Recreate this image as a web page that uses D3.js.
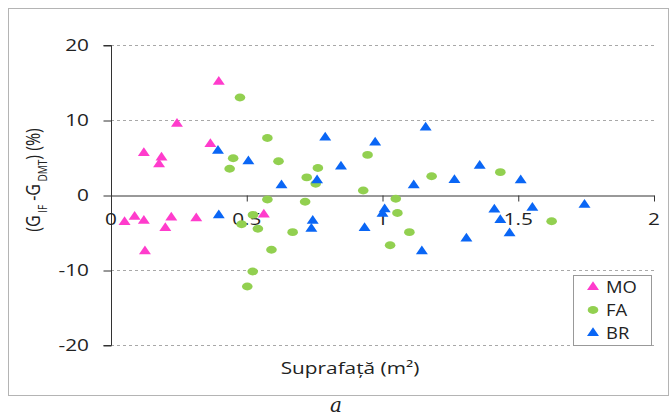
<!DOCTYPE html>
<head>
  <meta charset="utf-8">
  <script src="https://d3js.org/d3.v7.min.js"></script>
  <style>
    body { margin: 0; background: #fff; }
    svg { width: 671px; height: 417px; display: block; }
    text { font-family: "Open Sans", sans-serif; fill: #222; }
  </style>
</head>

<body>
  <svg></svg>

  <script>
    const width = 671;
    const height = 417;

    // data: [surface m2, difference %]
    const moData = [
      [0.397, 15.1], [0.243, 9.5], [0.366, 6.8], [0.121, 5.6], [0.186, 5.0],
      [0.177, 4.1], [0.050, -3.6], [0.087, -2.9], [0.121, -3.45], [0.222, -3.0],
      [0.200, -4.4], [0.314, -3.1], [0.563, -2.6], [0.125, -7.5]
    ];
    const faData = [
      [0.475, 13.0], [0.576, 7.6], [0.450, 4.9], [0.617, 4.5], [0.437, 3.5],
      [0.762, 3.6], [0.721, 2.35], [0.754, 1.5], [0.945, 5.35], [0.929, 0.6],
      [1.181, 2.5], [1.434, 3.05], [0.576, -0.6], [0.715, -0.9], [1.049, -0.5],
      [1.055, -2.4], [0.523, -2.65], [0.481, -3.9], [0.541, -4.5], [0.669, -4.95],
      [0.591, -7.3], [0.522, -10.2], [0.502, -12.2], [1.028, -6.7], [1.099, -4.95],
      [1.623, -3.5]
    ];
    const brData = [
      [0.394, 5.9], [0.506, 4.5], [0.628, 1.3], [0.789, 7.65], [0.973, 7.0],
      [0.759, 1.95], [0.847, 3.8], [1.159, 9.0], [1.115, 1.3], [1.265, 2.0],
      [1.358, 3.9], [1.509, 1.95], [0.397, -2.7], [0.743, -3.45], [0.738, -4.5],
      [1.008, -1.9], [1.0, -2.5], [0.934, -4.4], [1.412, -1.95], [1.434, -3.35],
      [1.468, -5.1], [1.552, -1.7], [1.744, -1.3], [1.309, -5.8], [1.145, -7.5]
    ];

    const seriesNames = ['MO', 'FA', 'BR'];
    const xTicks = [0, 0.5, 1, 1.5, 2];
    const xTickLabels = ['0', '0.5', '1', '1.5', '2'];
    const yTicks = [20, 10, 0, -10, -20];

    const series = [
      { name: seriesNames[0], data: moData, shape: 'tri', color: '#ff3ccc' },
      { name: seriesNames[1], data: faData, shape: 'dot', color: '#92d050' },
      { name: seriesNames[2], data: brData, shape: 'tri', color: '#0a66f5' }
    ];

    const x = d3.scaleLinear().domain([0, 2]).range([111, 654]);
    const y = d3.scaleLinear().domain([-20, 20]).range([345, 45]);
    const stretch = 1.3; // the reference text is drawn wide

    const svg = d3.select('svg');

    // outer frame
    svg.append('rect')
      .attr('x', 8.5).attr('y', 8.5)
      .attr('width', 660).attr('height', 387)
      .attr('fill', 'none').attr('stroke', '#b4b4b4');

    // dashed grid
    svg.append('g').selectAll('line')
      .data(yTicks.filter(d => d !== 0))
      .join('line')
      .attr('x1', x(0)).attr('x2', x(2))
      .attr('y1', d => y(d) + 0.5).attr('y2', d => y(d) + 0.5)
      .attr('stroke', '#a8a8a8')
      .attr('stroke-dasharray', '3,3');

    // y axis
    const yAxis = svg.append('g')
      .attr('transform', `translate(${x(0) + 0.5},0.5)`)
      .call(d3.axisLeft(y).tickValues(yTicks).tickSize(8).tickFormat(''));
    yAxis.select('.domain').attr('stroke', '#333').attr('d', `M-8,${y(20)}H0V${y(-20)}H-8`);
    yAxis.selectAll('.tick line').attr('stroke', '#333');

    svg.append('g').selectAll('text')
      .data(yTicks)
      .join('text')
      .attr('transform', d => `translate(89,${y(d)}) scale(${stretch},1)`)
      .attr('text-anchor', 'end')
      .attr('dy', '0.35em')
      .style('font-size', '16px')
      .text(d => d);

    // x axis through zero
    const xAxis = svg.append('g')
      .attr('transform', `translate(0,${y(0) + 0.5})`)
      .call(d3.axisBottom(x).tickValues(xTicks).tickSize(6).tickSizeOuter(0).tickFormat(''));
    xAxis.select('.domain').attr('stroke', '#333');
    xAxis.selectAll('.tick line').attr('stroke', '#333');

    svg.append('g').selectAll('text')
      .data(xTicks)
      .join('text')
      .attr('transform', (d, i) => `translate(${x(d)},${y(0) + 30}) scale(${stretch},1)`)
      .attr('text-anchor', 'middle')
      .style('font-size', '16px')
      .text((d, i) => xTickLabels[i]);

    // markers
    const tri = d3.symbol().type(d3.symbolTriangle).size(62)();

    function drawMarker(sel, shape, color) {
      if (shape === 'tri') {
        sel.append('path')
          .attr('d', tri)
          .attr('transform', 'scale(1,0.85)')
          .attr('fill', color);
      } else {
        sel.append('ellipse')
          .attr('rx', 5.3).attr('ry', 3.9)
          .attr('fill', color);
      }
    }

    series.forEach(s => {
      svg.append('g').selectAll('g')
        .data(s.data)
        .join('g')
        .attr('transform', d => `translate(${x(d[0])},${y(d[1])})`)
        .each(function () { drawMarker(d3.select(this), s.shape, s.color); });
    });

    // axis titles
    const yTitle = svg.append('text')
      .attr('transform', `translate(40,180) scale(${stretch},1) rotate(-90)`)
      .attr('text-anchor', 'middle')
      .style('font-size', '16px');
    yTitle.append('tspan').text('(G');
    yTitle.append('tspan').attr('dy', 5).style('font-size', '10px').text(' IF');
    yTitle.append('tspan').attr('dy', -5).text(' -G');
    yTitle.append('tspan').attr('dy', 5).style('font-size', '10px').text(' DMT');
    yTitle.append('tspan').attr('dy', -5).text(') (%)');

    svg.append('text')
      .attr('transform', `translate(350,374) scale(${stretch},1)`)
      .attr('text-anchor', 'middle')
      .style('font-size', '16px')
      .text('Suprafață (m²)');

    // legend
    const legend = svg.append('g').attr('transform', 'translate(573,275)');
    legend.append('rect')
      .attr('x', 0.5).attr('y', 0.5)
      .attr('width', 78).attr('height', 70)
      .attr('fill', '#fff').attr('stroke', '#999');
    const item = legend.selectAll('g.item')
      .data(series)
      .join('g')
      .attr('class', 'item')
      .attr('transform', (d, i) => `translate(0,${12 + i * 23})`);
    item.append('g')
      .attr('transform', 'translate(20,0)')
      .each(function (d) { drawMarker(d3.select(this), d.shape, d.color); });
    item.append('text')
      .attr('transform', `translate(33,0) scale(1.15,1)`)
      .attr('dy', '0.35em')
      .style('font-size', '16px')
      .text(d => d.name);

    // panel caption
    svg.append('text')
      .attr('x', 336).attr('y', 412)
      .attr('text-anchor', 'middle')
      .style('font-family', '"DejaVu Serif", serif')
      .style('font-style', 'italic')
      .style('font-size', '20px')
      .text('a');
  </script>
</body>
